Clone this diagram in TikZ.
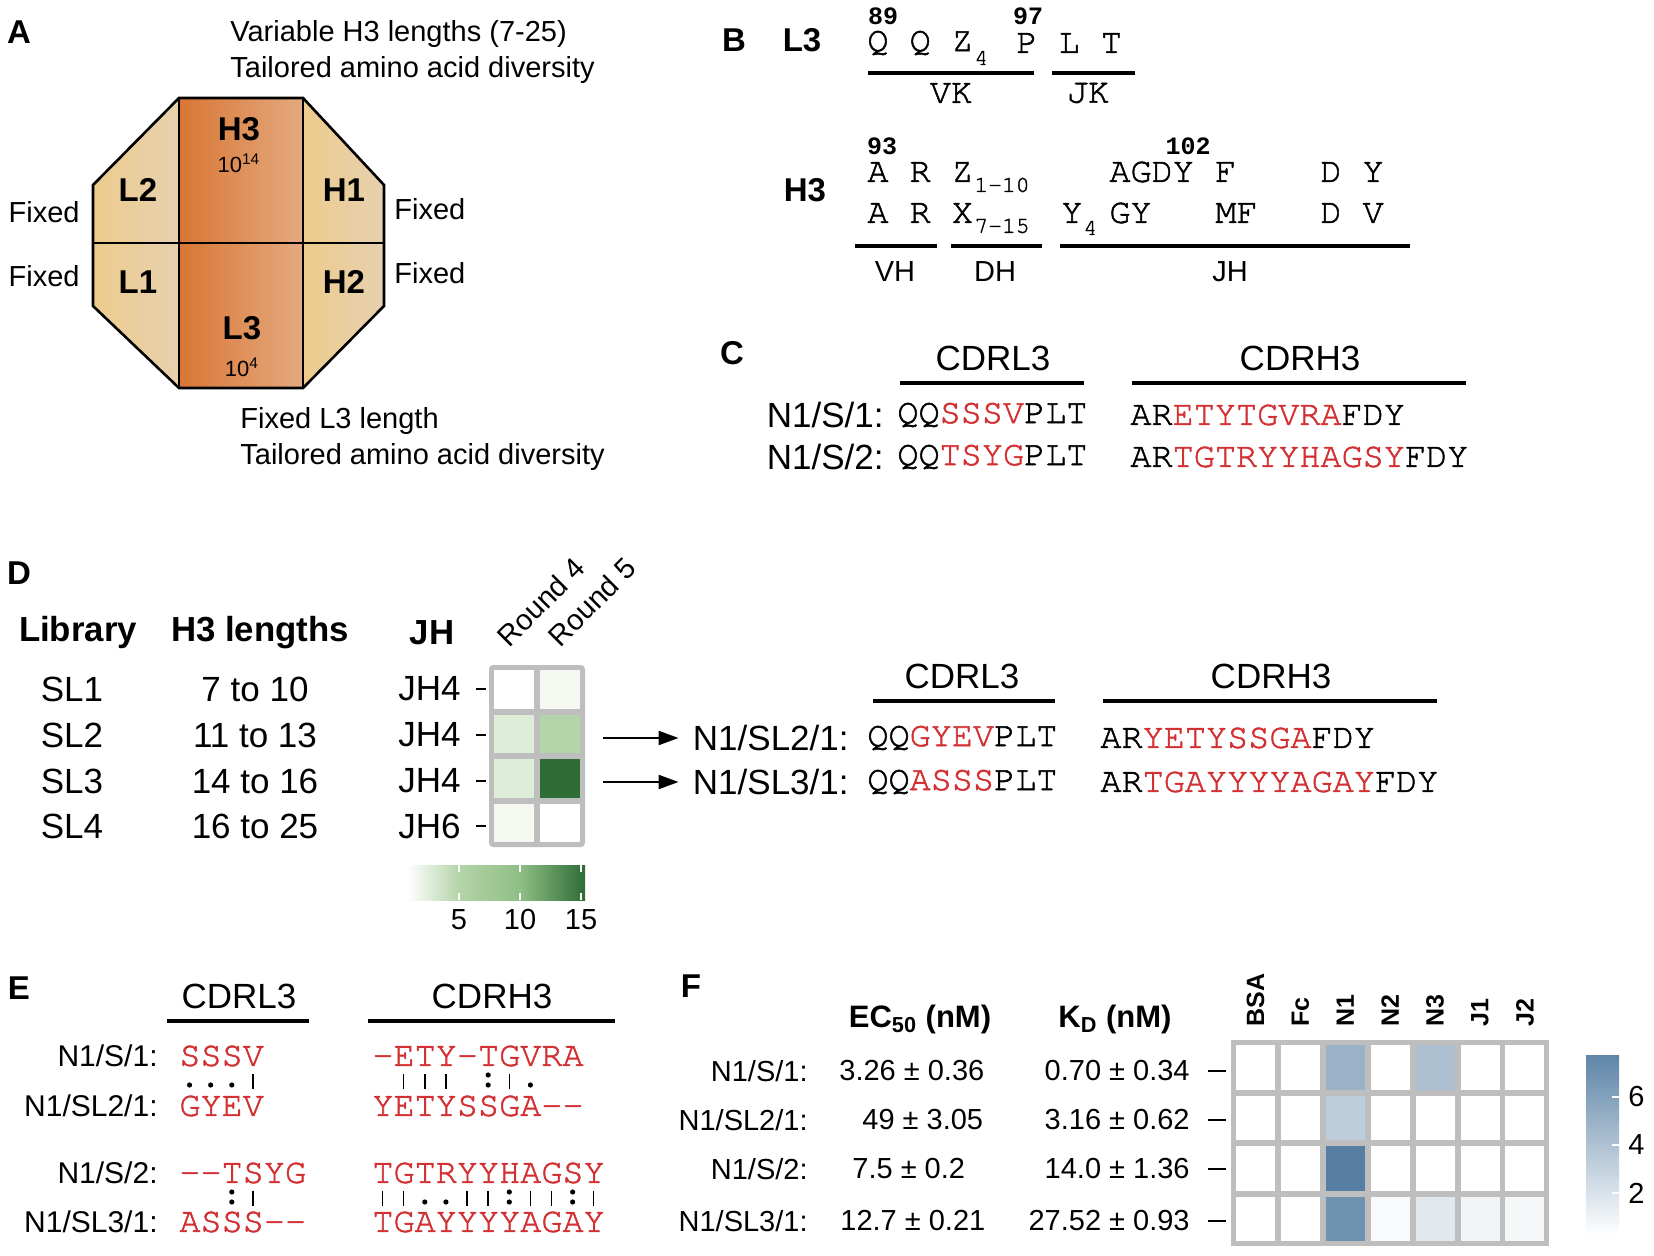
\documentclass[tikz,border=0pt]{standalone}
\usepackage{fontspec}
\setmainfont{Liberation Sans}
\setmonofont{TeX Gyre Cursor}[UprightFeatures={FakeBold=1.5}]
\newfontfamily\numfont{Liberation Mono}
\usepackage{xcolor}
\usepackage{tikz}
\usetikzlibrary{arrows.meta, positioning}

\definecolor{seqred}{RGB}{210,48,50}
\definecolor{orgdark}{RGB}{216,118,52}
\definecolor{orglight}{RGB}{229,170,128}
\definecolor{tanyel}{RGB}{236,203,140}
\definecolor{tanpink}{RGB}{231,209,176}
\definecolor{hmgray}{RGB}{190,190,190}
\definecolor{grA}{RGB}{244,248,241}
\definecolor{grB}{RGB}{222,237,216}
\definecolor{grC}{RGB}{180,212,169}
\definecolor{grM}{RGB}{143,191,133}
\definecolor{grD}{RGB}{46,108,54}
\definecolor{blD}{RGB}{86,127,163}

\newcommand{\rs}[1]{\textcolor{seqred}{#1}}

\tikzset{
  panel/.style={font=\fontsize{16.5}{18}\selectfont\bfseries},
  txt/.style={font=\fontsize{14.5}{17}\selectfont, inner sep=0pt},
  big/.style={font=\fontsize{17.5}{20}\selectfont, inner sep=0pt},
  hdr/.style={font=\fontsize{17.4}{20}\selectfont\bfseries, inner sep=0pt},
  seq/.style={font=\fontsize{17.6}{20}\selectfont\ttfamily, inner sep=0pt, anchor=west},
  sub/.style={font=\fontsize{11.5}{12}\selectfont\ttfamily, inner sep=0pt, anchor=west},
  num/.style={font=\fontsize{12.5}{14}\selectfont\numfont\bfseries, inner sep=0pt},
  bar/.style={line width=1.7pt},
  tick/.style={line width=1.1pt},
  matchbar/.style={line width=0.7pt},
}

\begin{document}
\begin{tikzpicture}[x=0.5pt, y=-0.5pt]
    \fill[white] (0,0) rectangle (1654,1256);
    \useasboundingbox (0,0) rectangle (1654,1256);

    % A: the library layout
    \node (labA) at (19,32) [panel] {A};
    \shade[left color=orgdark, right color=orglight] (179,98) rectangle (303,388);
    \shade[left color=tanyel, right color=tanpink]
        (179,98) -- (93,185) -- (93,306) -- (179,388) -- cycle;
    \shade[left color=tanyel, right color=tanpink]
        (303,98) -- (384,185) -- (384,306) -- (303,388) -- cycle;
    \draw[line width=1.3pt] (179,98) -- (303,98) -- (384,185) -- (384,306) --
        (303,388) -- (179,388) -- (93,306) -- (93,185) -- cycle;
    \draw[line width=1.3pt] (179,98) -- (179,388) (303,98) -- (303,388) (93,243) -- (384,243);
    \node (cH3) at (239,129) [panel] {H3};
    \node (dH3) at (239,163) [font=\fontsize{11}{12}\selectfont] {10\textsuperscript{14}};
    \node (cL2) at (138,190) [panel] {L2};
    \node (cH1) at (344,190) [panel] {H1};
    \node (cL1) at (138,282) [panel] {L1};
    \node (cH2) at (344,282) [panel] {H2};
    \node (cL3) at (242,328) [panel] {L3};
    \node (dL3) at (242,367) [font=\fontsize{11}{12}\selectfont] {10\textsuperscript{4}};
    \node (h3var) at (230,34) [txt, anchor=west] {Variable H3 lengths (7-25)};
    \node (h3div) at (230,70) [txt, anchor=west] {Tailored amino acid diversity};
    \node (fixL2) at (80,212) [txt, anchor=east] {Fixed};
    \node (fixL1) at (80,276) [txt, anchor=east] {Fixed};
    \node (fixH1) at (394,209) [txt, anchor=west] {Fixed};
    \node (fixH2) at (394,273) [txt, anchor=west] {Fixed};
    \node (l3len) at (240,421) [txt, anchor=west] {Fixed L3 length};
    \node (l3div) at (240,457) [txt, anchor=west] {Tailored amino acid diversity};

    % B: CDR3 design
    \node (labB) at (734,40) [panel] {B};
    \node (bL3) at (802,40) [panel] {L3};
    \node (n89) at (883,16) [num] {89};
    \node (n97) at (1028,16) [num] {97};
    \node (l3a) at (867,43) [seq] {Q~Q~Z};
    \node (l3s) at (974,58) [sub] {4};
    \node (l3b) at (1016,43) [seq] {P~L~T};
    \draw[bar] (868,73) -- (1034,73);
    \draw[bar] (1052,73) -- (1135,73);
    \node (vk) at (951,93) [seq, anchor=center] {VK};
    \node (jk) at (1088,93) [seq, anchor=center] {JK};

    \node (n93) at (882,146) [num] {93};
    \node (n102) at (1188,146) [num] {102};
    \node (bH3) at (805,190) [panel] {H3};
    \node (h3a) at (867,172) [seq] {A~R~Z};
    \node (h3as) at (974,185) [sub] {1-10};
    \node (h3b) at (1109,172) [seq] {AGDY~F};
    \node (h3c) at (1320,172) [seq] {D~Y};
    \node (h3d) at (867,213) [seq] {A~R~X};
    \node (h3ds) at (974,226) [sub] {7-15};
    \node (h3e) at (1061,213) [seq] {Y};
    \node (h3es) at (1083,228) [sub] {4};
    \node (h3f) at (1109,213) [seq] {GY};
    \node (h3g) at (1215,213) [seq] {MF};
    \node (h3h) at (1320,213) [seq] {D~V};
    \draw[bar] (855,246) -- (937,246);
    \draw[bar] (951,246) -- (1042,246);
    \draw[bar] (1060,246) -- (1410,246);
    \node (vh) at (895,272) [txt] {VH};
    \node (dh) at (995,272) [txt] {DH};
    \node (jh) at (1230,272) [txt] {JH};

    % C: first-round clones
    \node (labC) at (732,353) [panel] {C};
    \node (cl3C) at (993,358) [big] {CDRL3};
    \node (ch3C) at (1300,358) [big] {CDRH3};
    \draw[bar] (900,383) -- (1084,383);
    \draw[bar] (1132,383) -- (1466,383);
    \node (s1C) at (884,415) [big, anchor=east] {N1/S/1:};
    \node (s2C) at (884,457) [big, anchor=east] {N1/S/2:};
    \node at (897,415) [seq] {QQ\rs{SSSV}PLT};
    \node at (1130,415) [seq] {AR\rs{ETYTGVRA}FDY};
    \node at (897,457) [seq] {QQ\rs{TSYG}PLT};
    \node at (1130,457) [seq] {AR\rs{TGTRYYHAGSY}FDY};

    % D: sublibraries
    \node (labD) at (19,573) [panel] {D};
    \node (hLib) at (78,633) [hdr] {Library};
    \node (hLen) at (260,633) [hdr] {H3 lengths};
    \node (hJH) at (432,633) [hdr] {JH};
    \foreach \n/\l/\j/\y in {1/7 to 10/JH4/689, 2/11 to 13/JH4/735,
                             3/14 to 16/JH4/781, 4/16 to 25/JH6/826} {
        \node (sl\n) at (72,\y) [big] {SL\n};
        \node (len\n) at (255,\y) [big] {\l};
        \node (jh\n) at (461,\y) [big, anchor=east] {\j};
        \draw[tick] (476,\y) -- (486,\y);
    }
    \fill[hmgray, rounded corners=2pt] (489,665) rectangle (585,847);
    \foreach \c/\r/\col in {0/0/white, 1/0/grA, 0/1/grB, 1/1/grC,
                            0/2/grB, 1/2/grD, 0/3/grA, 1/3/white}
        \fill[\col] ({494+46*\c},{670+44.5*\r}) rectangle ++(40,38.5);
    \node (rd4) at (502,641) [txt, rotate=45, anchor=west, font=\fontsize{14.5}{17}\selectfont] {Round 4};
    \node (rd5) at (553,641) [txt, rotate=45, anchor=west, font=\fontsize{14.5}{17}\selectfont] {Round 5};
    \shade[left color=white, right color=grC] (407,865) rectangle (459,900);
    \shade[left color=grC, right color=grM] (459,865) rectangle (520,900);
    \shade[left color=grM, right color=grD] (520,865) rectangle (585,900);
    \foreach \x/\v in {459/5, 520/10, 581/15} {
        \draw[white, line width=0.8pt] (\x,865) -- (\x,872) (\x,893) -- (\x,900);
        \node at (\x,920) [txt] {\v};
    }

    \node (cl3D) at (962,676) [big] {CDRL3};
    \node (ch3D) at (1271,676) [big] {CDRH3};
    \draw[bar] (873,701) -- (1055,701);
    \draw[bar] (1103,701) -- (1437,701);
    \node (sl2c) at (849,738) [big, anchor=east] {N1/SL2/1:};
    \node (sl3c) at (849,782) [big, anchor=east] {N1/SL3/1:};
    \node at (867,738) [seq] {QQ\rs{GYEV}PLT};
    \node at (1100,738) [seq] {AR\rs{YETYSSGA}FDY};
    \node at (867,782) [seq] {QQ\rs{ASSS}PLT};
    \node at (1100,782) [seq] {AR\rs{TGAYYYYAGAY}FDY};
    \coordinate (a2) at (603,738);
    \coordinate (a3) at (603,782);
    \draw[-{Triangle[length=10pt,width=7pt]}, line width=1.1pt, shorten >=7pt] (a2) -- (sl2c.west);
    \draw[-{Triangle[length=10pt,width=7pt]}, line width=1.1pt, shorten >=7pt] (a3) -- (sl3c.west);

    % E: alignments
    \node (labE) at (19,988) [panel] {E};
    \node (cl3E) at (239,996) [big] {CDRL3};
    \node (ch3E) at (492,996) [big] {CDRH3};
    \draw[bar] (167,1021) -- (309,1021);
    \draw[bar] (368,1021) -- (615,1021);
    \node (e1) at (158,1056) [txt, anchor=east, font=\fontsize{15}{17}\selectfont] {N1/S/1:};
    \node (e2) at (158,1106) [txt, anchor=east, font=\fontsize{15}{17}\selectfont] {N1/SL2/1:};
    \node (e3) at (158,1173) [txt, anchor=east, font=\fontsize{15}{17}\selectfont] {N1/S/2:};
    \node (e4) at (158,1222) [txt, anchor=east, font=\fontsize{15}{17}\selectfont] {N1/SL3/1:};
    \node at (179,1056) [seq] {\rs{SSSV}};
    \node at (179,1106) [seq] {\rs{GYEV}};
    \node at (372,1056) [seq] {\rs{-ETY-TGVRA}};
    \node at (372,1106) [seq] {\rs{YETYSSGA-{}-}};
    \node at (179,1173) [seq] {\rs{-{}-TSYG}};
    \node at (179,1222) [seq] {\rs{ASSS-{}-}};
    \node at (372,1173) [seq] {\rs{TGTRYYHAGSY}};
    \node at (372,1222) [seq] {\rs{TGAYYYYAGAY}};
    % match marks: identical, similar, weak
    \foreach \x/\i/\y in {179/3/1081, 372/1/1081, 372/2/1081, 372/3/1081, 372/6/1081,
                          179/3/1198, 372/0/1198, 372/1/1198, 372/4/1198, 372/5/1198,
                          372/7/1198, 372/8/1198, 372/10/1198}
        \draw[matchbar] ({\x+21.12*(\i+0.5)},{\y-7}) -- ++(0,15);
    \foreach \x/\i/\y in {179/0/1081, 179/1/1081, 179/2/1081, 372/7/1081,
                          372/2/1198, 372/3/1198}
        \fill ({\x+21.12*(\i+0.5)},{\y+4}) circle (2.6);
    \foreach \x/\i/\y in {372/5/1081, 179/2/1198, 372/6/1198, 372/9/1198}
        \fill ({\x+21.12*(\i+0.5)},{\y-6}) circle (2.6) ({\x+21.12*(\i+0.5)},{\y+4}) circle (2.6);

    % F: binding
    \node (labF) at (691,986) [panel] {F};
    \node (hEC) at (920,1019) [hdr, font=\fontsize{15.5}{18}\selectfont\bfseries] {EC\textsubscript{50} (nM)};
    \node (hKD) at (1115,1019) [hdr, font=\fontsize{15.5}{18}\selectfont\bfseries] {K\textsubscript{D} (nM)};
    \node (f1) at (808,1071) [txt, anchor=east] {N1/S/1:};
    \node (f2) at (808,1120) [txt, anchor=east] {N1/SL2/1:};
    \node (f3) at (808,1169) [txt, anchor=east] {N1/S/2:};
    \node (f4) at (808,1221) [txt, anchor=east] {N1/SL3/1:};
    \node (ec1) at (839,1071) [txt, anchor=west] {3.26 ± 0.36};
    \node (ec2) at (862,1120) [txt, anchor=west] {49 ± 3.05};
    \node (ec3) at (852,1169) [txt, anchor=west] {7.5 ± 0.2};
    \node (ec4) at (840,1221) [txt, anchor=west] {12.7 ± 0.21};
    \node (kd1) at (1190,1071) [txt, anchor=east] {0.70 ± 0.34};
    \node (kd2) at (1190,1120) [txt, anchor=east] {3.16 ± 0.62};
    \node (kd3) at (1190,1169) [txt, anchor=east] {14.0 ± 1.36};
    \node (kd4) at (1190,1221) [txt, anchor=east] {27.52 ± 0.93};
    \foreach \y in {1071, 1120, 1169, 1221}
        \draw[tick] (1208,\y) -- (1226,\y);
    \fill[hmgray] (1231,1040) rectangle (1549,1246);
    \foreach \c in {0,...,6}
        \foreach \r in {0,...,3}
            \fill[white] ({1236+44.9*\c},{1045+50.5*\r}) rectangle ++(39,44.5);
    \foreach \c/\r/\col in {2/0/blD!60, 4/0/blD!50, 2/1/blD!39, 2/2/blD,
                            2/3/blD!85, 3/3/blD!4, 4/3/blD!18, 5/3/blD!9, 6/3/blD!6}
        \fill[\col] ({1236+44.9*\c},{1045+50.5*\r}) rectangle ++(39,44.5);
    \foreach \c/\t in {0/BSA, 1/Fc, 2/N1, 3/N2, 4/N3, 5/J1, 6/J2}
        \node (t\c) at ({1255.5+44.9*\c},1027) [rotate=90, anchor=west, inner sep=0pt,
            font=\fontsize{12.5}{14}\selectfont\bfseries] {\t};
    \shade[top color=blD!95, bottom color=white] (1586,1055) rectangle (1619,1235);
    \foreach \y/\v in {1097/6, 1145/4, 1193/2} {
        \draw[white, line width=0.8pt] (1612,\y) -- (1619,\y);
        \node at (1628,\y) [txt, anchor=west] {\v};
    }
\end{tikzpicture}
\end{document}
